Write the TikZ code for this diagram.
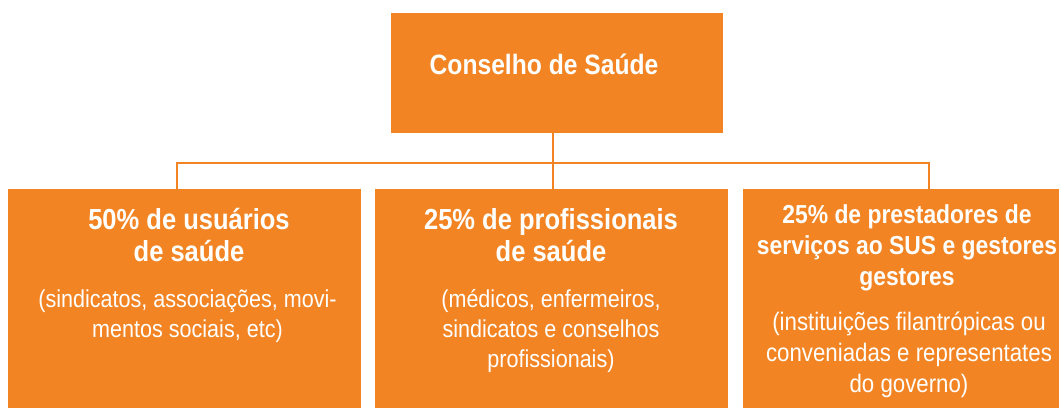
\documentclass[tikz,border=0pt]{standalone}
\usepackage{fontspec}
\setmainfont[FakeStretch=0.88]{Liberation Sans}
\usetikzlibrary{positioning}
\definecolor{laranja}{HTML}{F38423}

\begin{document}
\begin{tikzpicture}[x=1pt,y=-1pt,
  caixa/.style={fill=laranja,draw=none,inner sep=0pt},
  ligacao/.style={draw=laranja,line width=2pt},
  titulo/.style={text=white,font=\bfseries\fontsize{29}{31.5}\selectfont,align=center,anchor=base,inner sep=0pt},
  corpo/.style={text=white,font=\fontsize{24.5}{30}\selectfont,align=center,anchor=base,inner sep=0pt}]
  \useasboundingbox (0,0) rectangle (1061,408);

  \node[caixa,minimum width=332pt,minimum height=120pt] (conselho) at (557,73) {}; % caixa de cima
  \node[titulo,font=\bfseries\fontsize{28}{31}\selectfont] (conselhotxt) at (544,74) {Conselho de Saúde};

  \node[caixa,minimum width=353pt,minimum height=219pt] (usuarios) at (184.5,298.5) {};      % 50%
  \node[caixa,minimum width=353pt,minimum height=219pt] (profissionais) at (551.5,298.5) {}; % 25%
  \node[caixa,minimum width=316pt,minimum height=219pt] (prestadores) at (901,298.5) {};     % 25%

  % base = ultima linha
  \node[titulo] (usuariostit) at (189,261) {50\% de usuários\\de saúde};
  \node[corpo] (usuarioscorpo) at (187.5,337) {(sindicatos, associações, movi-\\mentos sociais, etc)};

  \node[titulo] (profissionaistit) at (551,261) {25\% de profissionais\\de saúde};
  \node[corpo] (profissionaiscorpo) at (551,367) {(médicos, enfermeiros,\\sindicatos e conselhos\\profissionais)};

  \node[titulo,font=\bfseries\fontsize{26}{31}\selectfont] (prestadorestit) at (907,285) {25\% de prestadores de\\serviços ao SUS e gestores\\gestores};
  \node[corpo,font=\fontsize{25.3}{31}\selectfont] (prestadorescorpo) at (909,392) {(instituições filantrópicas ou\\conveniadas e representates\\do governo)};

  \coordinate (barra) at (553,163);  % barra horizontal
  \coordinate (barraE) at (177,163);
  \coordinate (barraD) at (929,163);
  \draw[ligacao] (conselho.south -| barra) -- (barra) -- (profissionais.north -| barra);
  \draw[ligacao] (usuarios.north -| barraE) -- (barraE) -- (barraD) -- (prestadores.north -| barraD);
\end{tikzpicture}
\end{document}
